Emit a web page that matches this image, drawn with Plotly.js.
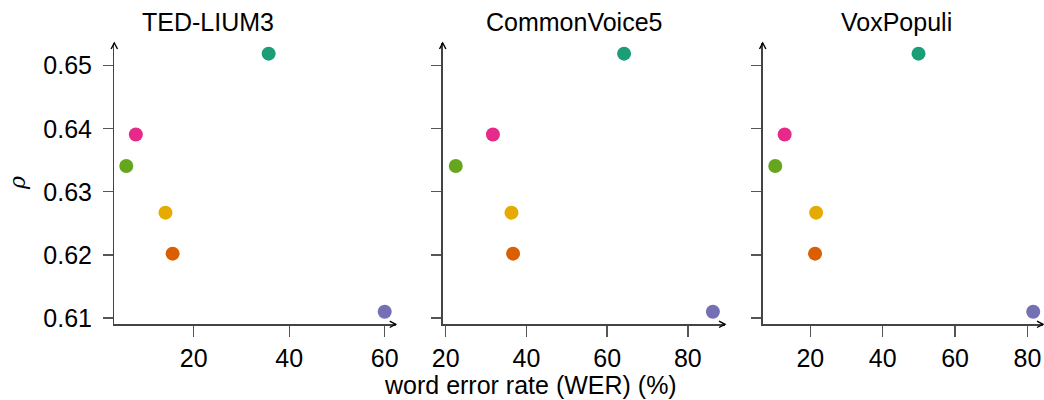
<!DOCTYPE html>
<html>
<head>
<meta charset="utf-8">
<script src="https://cdn.plot.ly/plotly-3.0.1.min.js"></script>
<style>html,body{margin:0;padding:0;background:#fff;}#chart{width:1044px;height:400px;}</style>
</head>
<body>
<div id="chart"></div>
<script>
// ---- data ----
const datasets = ['TED-LIUM3', 'CommonVoice5', 'VoxPopuli'];
const rho = [0.6519, 0.6391, 0.6341, 0.6267, 0.6202, 0.6110];
const werTED = [35.7, 7.9, 5.9, 14.1, 15.6, 60.0];
const werCV = [64.2, 31.7, 22.5, 36.3, 36.7, 86.2];
const werVox = [49.9, 12.9, 10.3, 21.6, 21.3, 81.6];
const pointColors = ['#1b9e77', '#e7298a', '#66a61e', '#e6ab02', '#d95f02', '#7570b3'];
const xTitle = 'word error rate (WER) (%)';
const yTitle = 'ρ';

// ---- layout helpers (pixel -> paper) ----
const W = 1044, H = 400;
const px = v => v / W;
const py = v => 1 - v / H;

const panels = [
  {x: werTED, dom: [114.3, 395.7], range: [3.39, 62.3], titleX: 208},
  {x: werCV, dom: [442.7, 725], range: [19.26, 89.2], titleX: 574},
  {x: werVox, dom: [762.7, 1043], range: [6.83, 84.3], titleX: 896}
];
const yTop = 43, yBot = 324.3;

const font = {family: 'Liberation Sans, Arial, sans-serif', size: 25, color: '#000'};

const traces = panels.map((p, i) => ({
  type: 'scatter', mode: 'markers',
  x: p.x, y: rho,
  xaxis: i === 0 ? 'x' : 'x' + (i + 1),
  yaxis: i === 0 ? 'y' : 'y' + (i + 1),
  marker: {color: pointColors, size: 14, line: {width: 0}},
  hoverinfo: 'x+y', showlegend: false, cliponaxis: false
}));

const layout = {
  width: W, height: H,
  margin: {l: 0, r: 0, t: 0, b: 0},
  paper_bgcolor: '#fff', plot_bgcolor: '#fff',
  font: font,
  showlegend: false,
  annotations: [],
  shapes: []
};

panels.forEach((p, i) => {
  const xs = i === 0 ? 'xaxis' : 'xaxis' + (i + 1);
  const ys = i === 0 ? 'yaxis' : 'yaxis' + (i + 1);
  layout[xs] = {
    domain: [px(p.dom[0]), px(p.dom[1])],
    range: p.range,
    anchor: i === 0 ? 'y' : 'y' + (i + 1),
    showline: true, linecolor: '#444', linewidth: 1.3,
    showgrid: false, zeroline: false,
    ticks: 'outside', ticklen: 11, tickwidth: 1.3, tickcolor: '#555',
    tick0: 0, dtick: 20,
    tickfont: font
  };
  layout[ys] = {
    domain: [py(yBot), py(yTop)],
    range: [0.609003, 0.653592],
    anchor: i === 0 ? 'x' : 'x' + (i + 1),
    showline: true, linecolor: '#444', linewidth: 1.3,
    showgrid: false, zeroline: false,
    ticks: 'outside', ticklen: 10, tickwidth: 1.3, tickcolor: '#555',
    tick0: 0.61, dtick: 0.01, tickformat: '.2f',
    showticklabels: i === 0,
    ticklabelstandoff: 6,
    tickfont: font
  };
  // panel title
  layout.annotations.push({
    xref: 'paper', yref: 'paper', x: px(p.titleX), y: py(22),
    xanchor: 'center', yanchor: 'middle', showarrow: false,
    text: datasets[i], font: font
  });
  // arrowheads at axis ends
  const x0 = p.dom[0], x1 = p.dom[1];
  layout.shapes.push({
    type: 'path', xref: 'paper', yref: 'paper',
    path: `M ${px(x0 - 3.2)} ${py(yTop + 6)} L ${px(x0)} ${py(yTop)} L ${px(x0 + 3.2)} ${py(yTop + 6)}`,
    line: {color: '#000', width: 1.4}
  });
  layout.shapes.push({
    type: 'path', xref: 'paper', yref: 'paper',
    path: `M ${px(x1 - 6)} ${py(yBot - 3.2)} L ${px(x1)} ${py(yBot)} L ${px(x1 - 6)} ${py(yBot + 3.2)}`,
    line: {color: '#000', width: 1.4}
  });
});

layout.annotations.push({
  xref: 'paper', yref: 'paper', x: px(530), y: py(385),
  xanchor: 'center', yanchor: 'middle', showarrow: false,
  text: xTitle, font: font
});
layout.annotations.push({
  xref: 'paper', yref: 'paper', x: px(17), y: py(183),
  xanchor: 'center', yanchor: 'middle', showarrow: false, textangle: -90,
  text: '<i>' + yTitle + '</i>', font: Object.assign({}, font, {family: 'DejaVu Serif, serif', size: 22})
});

Plotly.newPlot('chart', traces, layout, {displayModeBar: false, staticPlot: true});
</script>
</body>
</html>
